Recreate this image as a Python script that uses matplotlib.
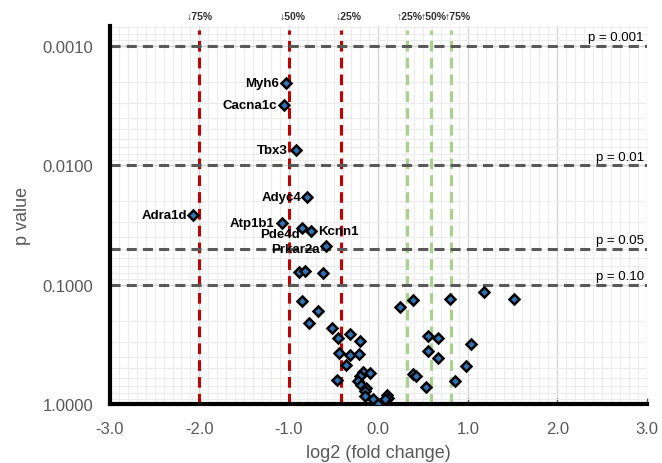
import matplotlib.pyplot as plt
import numpy as np
from matplotlib.ticker import FixedLocator, MultipleLocator, FuncFormatter
from matplotlib.transforms import blended_transform_factory

plt.rcParams['font.family'] = ['Liberation Sans', 'DejaVu Sans']

# labelled genes
gene_names = ['Myh6', 'Cacna1c', 'Tbx3', 'Adyc4', 'Adra1d', 'Atp1b1', 'Pde4d', 'Kcnn1', 'Prkar2a']
gene_fc = [-1.03, -1.05, -0.92, -0.80, -2.07, -1.08, -0.85, -0.75, -0.59]
gene_p = [0.00205, 0.00312, 0.00738, 0.0186, 0.0263, 0.0303, 0.0336, 0.0353, 0.0474]
# label offsets in points (dx, dy), alignment
gene_offsets = [(-5, 0), (-5, 0), (-6, 0), (-4, 0), (-4, 0), (-5, 0), (-2, -4), (5, 0), (-4, -2)]
gene_ha = ['right', 'right', 'right', 'right', 'right', 'right', 'right', 'left', 'right']

# other genes
other_fc = [-0.883, -0.816, -0.622, -0.849, -0.674, -0.774, -0.517, -0.455, -0.313, -0.201,
            -0.436, -0.321, -0.220, -0.358, -0.461, -0.171, -0.089, -0.209, -0.231, -0.193,
            -0.137, -0.145, -0.145, -0.059, -0.008, 0.097, 0.104, 0.070,
            0.246, 0.388, 0.797, 1.181, 1.512, 0.551, 0.667, 1.039, 0.551, 0.667,
            0.975, 0.388, 0.417, 0.860, 0.536]
other_p = [0.0784, 0.0767, 0.0802, 0.138, 0.167, 0.209, 0.231, 0.279, 0.261, 0.297,
           0.371, 0.385, 0.383, 0.473, 0.632, 0.538, 0.548, 0.581, 0.644, 0.697,
           0.728, 0.771, 0.861, 0.912, 0.99, 0.843, 0.887, 0.912,
           0.154, 0.135, 0.133, 0.116, 0.132, 0.268, 0.278, 0.313, 0.361, 0.410,
           0.478, 0.556, 0.585, 0.640, 0.723]

# thresholds
down_x = [np.log2(0.25), np.log2(0.5), np.log2(0.75)]
down_labels = ['↓75%', '↓50%', '↓25%']
up_x = [np.log2(1.25), np.log2(1.5), np.log2(1.75)]
up_labels = ['↑25%', '↑50%', '↑75%']
p_lines = [0.001, 0.01, 0.05, 0.10]
p_labels = ['p = 0.001', 'p = 0.01', 'p = 0.05', 'p = 0.10']

fig = plt.figure(figsize=(6.62, 4.64), dpi=100)
ax = fig.add_axes([0.166, 0.127, 0.811, 0.815])

ax.set_yscale('log')
ax.set_xlim(-3, 3)
ax.set_ylim(1.0, 0.00068)

ax.xaxis.set_major_locator(MultipleLocator(1))
ax.xaxis.set_minor_locator(MultipleLocator(0.1))
ax.xaxis.set_major_formatter(FuncFormatter(lambda v, pos: f'{v:.1f}'))
ax.yaxis.set_major_locator(FixedLocator([0.001, 0.01, 0.1, 1.0]))
minor_y = [m * 10.0 ** e for e in (-4, -3, -2, -1) for m in range(2, 10)]
ax.yaxis.set_minor_locator(FixedLocator(minor_y))
ax.yaxis.set_major_formatter(FuncFormatter(lambda v, pos: f'{v:.4f}'))
ax.yaxis.set_minor_formatter(FuncFormatter(lambda v, pos: ''))

ax.grid(which='major', color='#d6d6d6', linewidth=1.0, zorder=0)
ax.grid(which='minor', color='#ececec', linewidth=0.8, zorder=0)
ax.set_axisbelow(True)

for s in ['top', 'right']:
    ax.spines[s].set_visible(False)
for s in ['left', 'bottom']:
    ax.spines[s].set_linewidth(3)
    ax.spines[s].set_color('black')

ax.tick_params(which='major', direction='in', length=4, width=1, colors='#595959',
               labelsize=12, pad=12)
ax.tick_params(which='minor', length=0)

# threshold lines
for x in down_x:
    ax.axvline(x, color='#c00000', linewidth=2.2, dashes=(3.5, 2), zorder=2, ymax=0.99)
for x in up_x:
    ax.axvline(x, color='#a9d18e', linewidth=2.2, dashes=(3.5, 2), zorder=2, ymax=0.99)
for p in p_lines:
    ax.axhline(p, color='#595959', linewidth=2.2, dashes=(3.3, 2), zorder=2)

trans = blended_transform_factory(ax.transData, ax.transAxes)
down_pos = [-2.0, -0.96, -0.33]
for x, lab in zip(down_pos, down_labels):
    ax.text(x, 1.025, lab, transform=trans, ha='center', va='center',
            fontsize=7.5, fontweight='bold', color='#303030')
up_pos = [0.345, 0.615, 0.885]
for x, lab in zip(up_pos, up_labels):
    ax.text(x, 1.025, lab, transform=trans, ha='center', va='center',
            fontsize=7.5, fontweight='bold', color='#303030')

for p, lab in zip(p_lines, p_labels):
    ax.annotate(lab, xy=(3.0, p), xytext=(-2, 2), textcoords='offset points',
                ha='right', va='bottom', fontsize=9.5, color='black')

ax.plot(other_fc, other_p, linestyle='none', marker='D', markersize=5.5,
        markerfacecolor='#2f75b5', markeredgecolor='black', markeredgewidth=1.8,
        zorder=4, clip_on=True)
ax.plot(gene_fc, gene_p, linestyle='none', marker='D', markersize=5.5,
        markerfacecolor='#2f75b5', markeredgecolor='black', markeredgewidth=1.8,
        zorder=4)

for name, x, p, off, ha in zip(gene_names, gene_fc, gene_p, gene_offsets, gene_ha):
    ax.annotate(name, xy=(x, p), xytext=off, textcoords='offset points',
                ha=ha, va='center', fontsize=9.5, fontweight='bold', color='black',
                zorder=5)

ax.set_xlabel('log2 (fold change)', fontsize=13, color='#595959', labelpad=6)
ax.set_ylabel('p value', fontsize=13, color='#595959', labelpad=8)

fig.savefig('out.png', dpi=100)
